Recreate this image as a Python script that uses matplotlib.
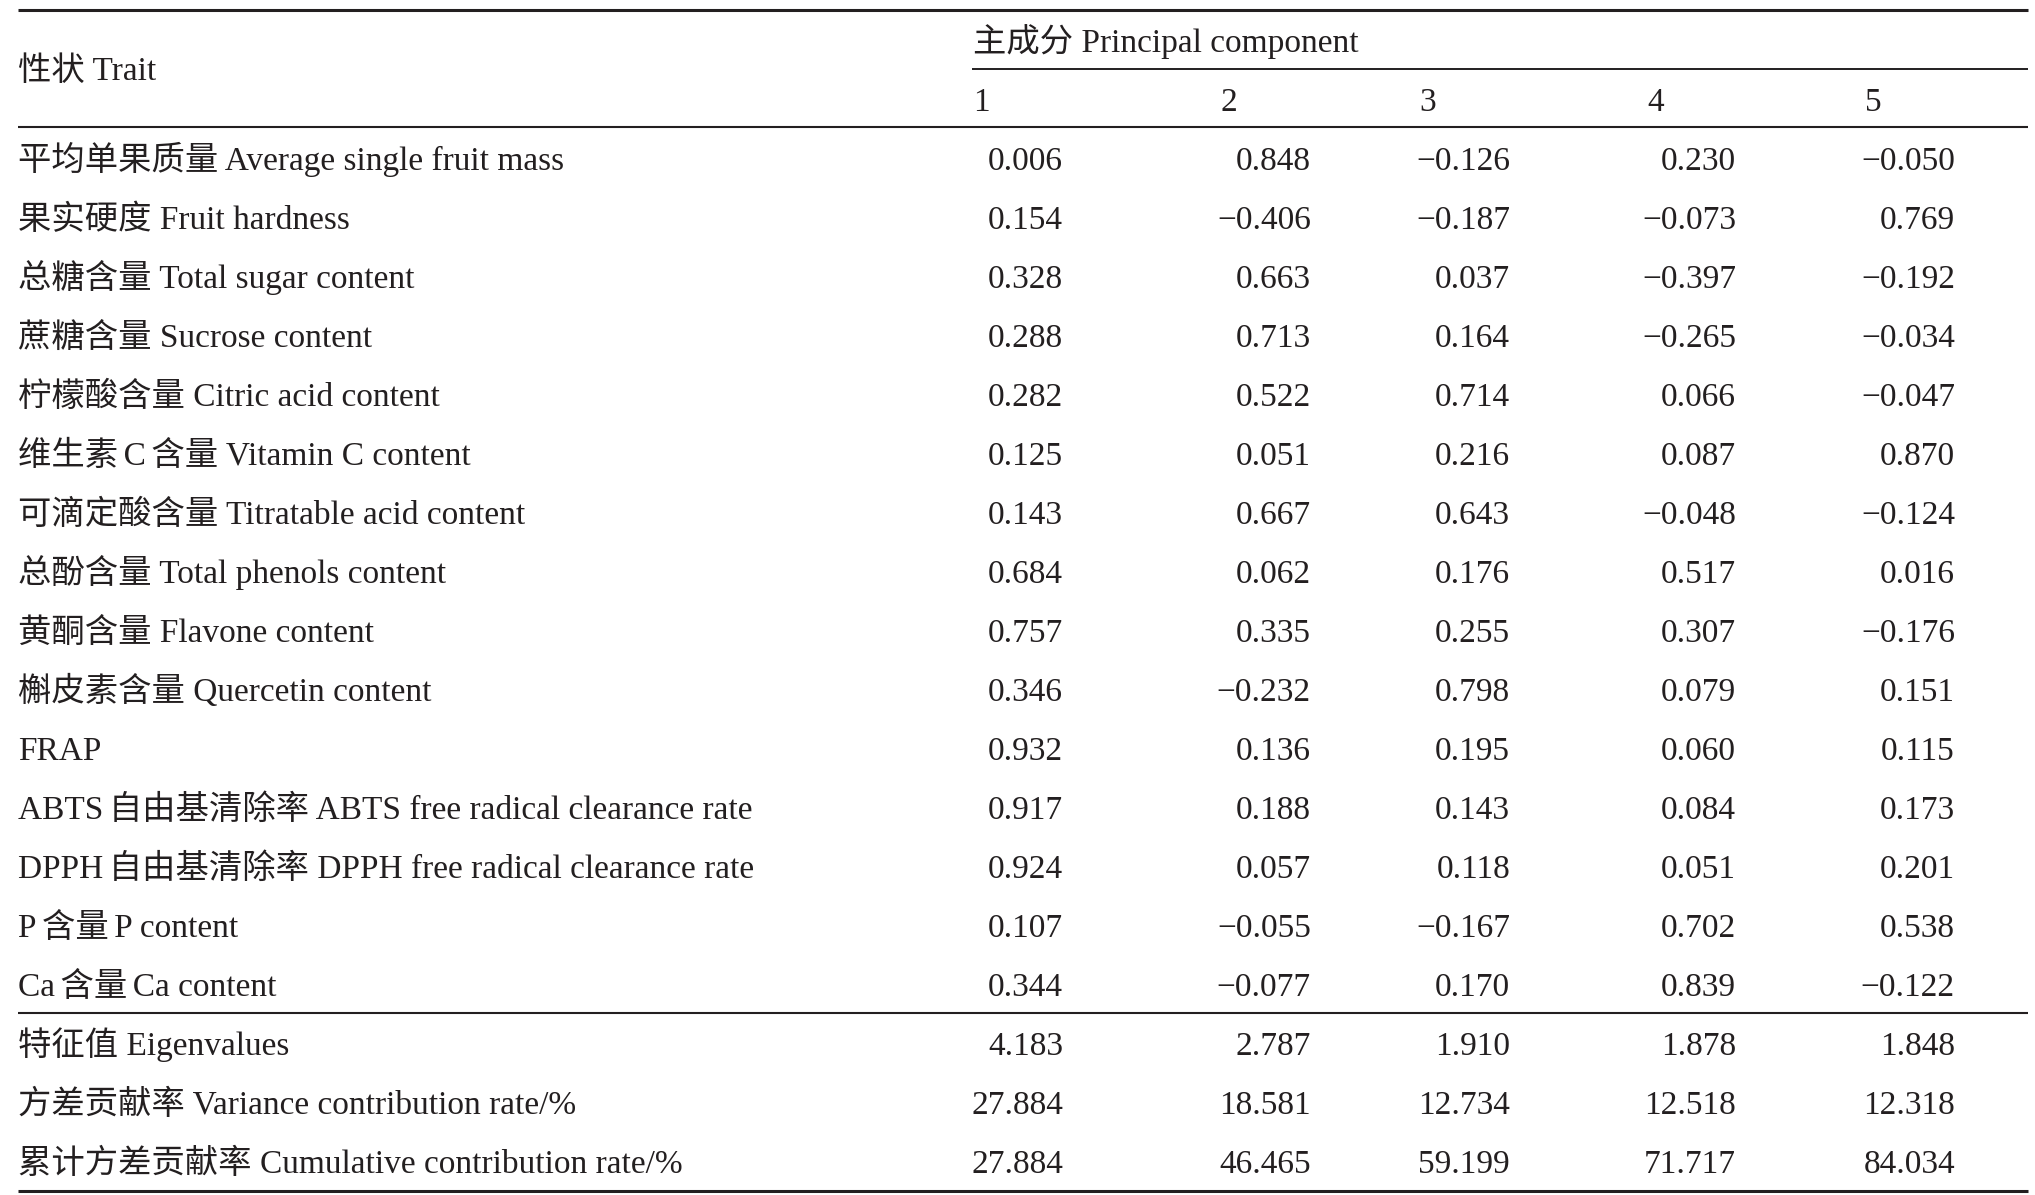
import matplotlib.pyplot as plt

# =========================================================
# DATA
# =========================================================
SP = "\u2006"  # narrow gap between Chinese and Latin parts

traits = [
    "平均单果质量 Average single fruit mass",
    "果实硬度 Fruit hardness",
    "总糖含量 Total sugar content",
    "蔗糖含量 Sucrose content",
    "柠檬酸含量 Citric acid content",
    f"维生素{SP}C{SP}含量 Vitamin C content",
    "可滴定酸含量 Titratable acid content",
    "总酚含量 Total phenols content",
    "黄酮含量 Flavone content",
    "槲皮素含量 Quercetin content",
    "FRAP",
    f"ABTS{SP}自由基清除率 ABTS free radical clearance rate",
    f"DPPH{SP}自由基清除率 DPPH free radical clearance rate",
    f"P{SP}含量{SP}P content",
    f"Ca{SP}含量{SP}Ca content",
]

pc1 = [0.006, 0.154, 0.328, 0.288, 0.282, 0.125, 0.143, 0.684, 0.757, 0.346, 0.932, 0.917, 0.924, 0.107, 0.344]
pc2 = [0.848, -0.406, 0.663, 0.713, 0.522, 0.051, 0.667, 0.062, 0.335, -0.232, 0.136, 0.188, 0.057, -0.055, -0.077]
pc3 = [-0.126, -0.187, 0.037, 0.164, 0.714, 0.216, 0.643, 0.176, 0.255, 0.798, 0.195, 0.143, 0.118, -0.167, 0.170]
pc4 = [0.230, -0.073, -0.397, -0.265, 0.066, 0.087, -0.048, 0.517, 0.307, 0.079, 0.060, 0.084, 0.051, 0.702, 0.839]
pc5 = [-0.050, 0.769, -0.192, -0.034, -0.047, 0.870, -0.124, 0.016, -0.176, 0.151, 0.115, 0.173, 0.201, 0.538, -0.122]

stat_labels = [
    "特征值 Eigenvalues",
    "方差贡献率 Variance contribution rate/%",
    "累计方差贡献率 Cumulative contribution rate/%",
]
eigenvalues = [4.183, 2.787, 1.910, 1.878, 1.848]
variance_rate = [27.884, 18.581, 12.734, 12.518, 12.318]
cumulative_rate = [27.884, 46.465, 59.199, 71.717, 84.034]

components = ["1", "2", "3", "4", "5"]

# =========================================================
# LAYOUT (pixel coordinates, y grows downward)
# =========================================================
W, H = 2035, 1195
FONT = ["Liberation Serif", "Noto Sans CJK SC"]
SIZE = 24
INK = "#231f20"

x_left = 18
x_right = 2028
col_left = [973, 1220, 1419, 1647, 1865]
col_right = [1063, 1311, 1510, 1736, 1955]
row_top = 170
row_step = 59


def fmt(v):
    return f"{v:.3f}".replace("-", "\u2212")


fig = plt.figure(figsize=(W / 100, H / 100), dpi=100)
ax = fig.add_axes([0, 0, 1, 1])
ax.set_xlim(0, W)
ax.set_ylim(H, 0)
ax.axis("off")


def put(x, y, s, ha="left"):
    ax.text(x, y, s, ha=ha, va="baseline", fontsize=SIZE,
            family=FONT, weight="light", color=INK)


# =============================
# RULES
# =============================
ax.plot([x_left, x_right], [9.5, 9.5], color=INK, lw=2.2, solid_capstyle="butt")
ax.plot([972, x_right], [69, 69], color=INK, lw=1.4, solid_capstyle="butt")
ax.plot([x_left, x_right], [127, 127], color=INK, lw=1.5, solid_capstyle="butt")
ax.plot([x_left, x_right], [1013, 1013], color=INK, lw=1.5, solid_capstyle="butt")
ax.plot([x_left, x_right], [1190.5, 1190.5], color=INK, lw=2.2, solid_capstyle="butt")

# =============================
# HEADER
# =============================
put(x_left, 80, "性状 Trait")
put(973, 52, "主成分 Principal component")
for j, c in enumerate(components):
    put(col_left[j], 111, c)

# =============================
# BODY
# =============================
columns = [pc1, pc2, pc3, pc4, pc5]
for i, name in enumerate(traits):
    y = row_top + row_step * i
    put(x_left, y, name)
    for j, col in enumerate(columns):
        put(col_right[j], y, fmt(col[i]), ha="right")

stats = [eigenvalues, variance_rate, cumulative_rate]
for k, name in enumerate(stat_labels):
    y = row_top + row_step * (len(traits) + k)
    put(x_left, y, name)
    for j in range(5):
        put(col_right[j], y, fmt(stats[k][j]), ha="right")

fig.savefig("out.png", dpi=100, facecolor="white")
